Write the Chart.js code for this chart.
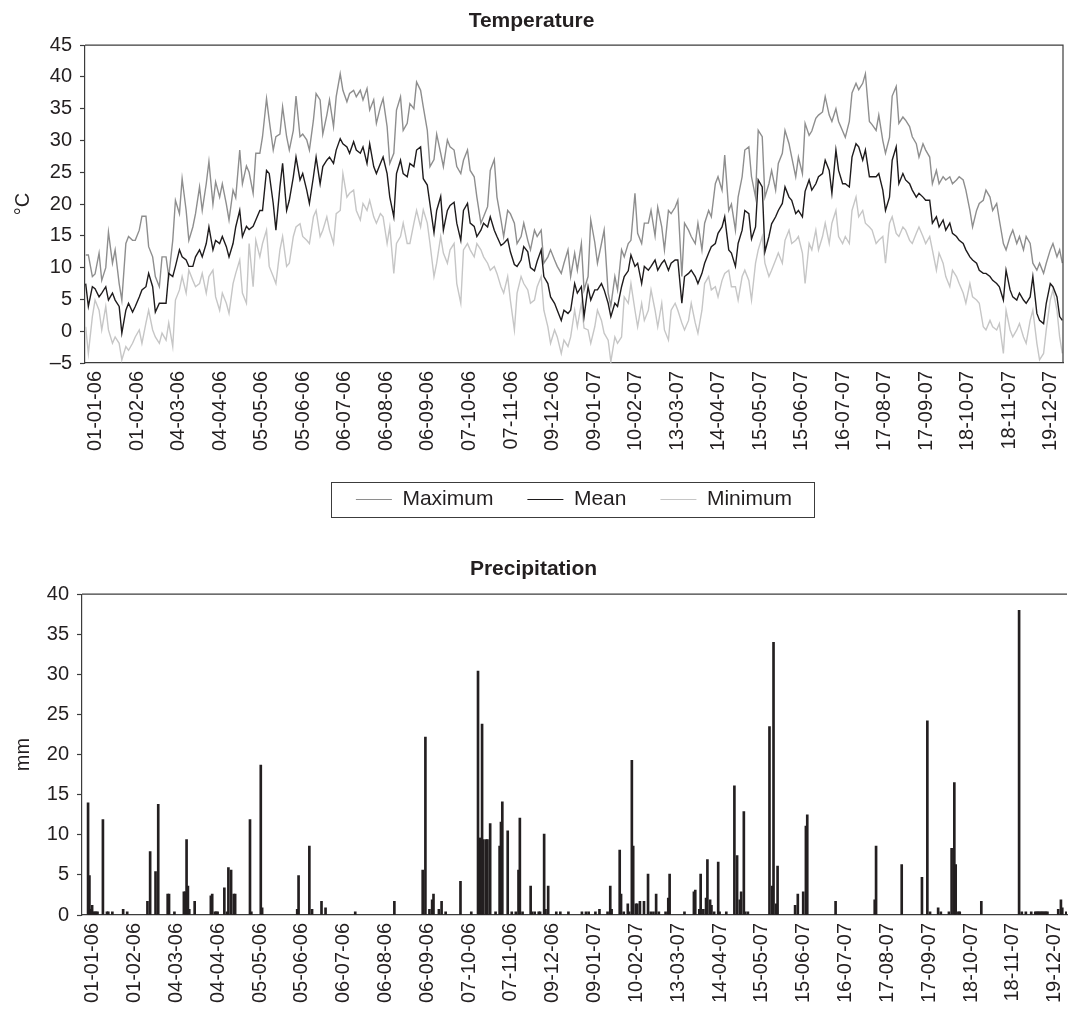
<!DOCTYPE html>
<html>
<head>
<meta charset="utf-8">
<title>Temperature and precipitation</title>
<script src="https://cdn.jsdelivr.net/npm/chart.js@4.4.0/dist/chart.umd.min.js"></script>
<style>
  html, body { margin: 0; padding: 0; background: #fff; }
  #page { position: relative; width: 1070px; height: 1018px; }
  .panel { position: absolute; left: 0; width: 1070px; }
  #tempPanel { top: 0; height: 520px; }
  #rainPanel { top: 520px; height: 498px; }
</style>
</head>
<body>
<div id="page">
  <div class="panel" id="tempPanel"><canvas id="tempChart"></canvas></div>
  <div class="panel" id="rainPanel"><canvas id="rainChart"></canvas></div>
</div>
<script>
// x axis: day number counted from 01-01-06, a label every 31 days
const tickDays = [0, 31, 62, 93, 124, 155, 186, 217, 248, 279, 310, 341,
  372, 403, 434, 465, 496, 527, 558, 589, 620, 651, 682, 713];
const tickLabels = ['01-01-06', '01-02-06', '04-03-06', '04-04-06', '05-05-06', '05-06-06',
  '06-07-06', '06-08-06', '06-09-06', '07-10-06', '07-11-06', '09-12-06',
  '09-01-07', '10-02-07', '13-03-07', '14-04-07', '15-05-07', '15-06-07',
  '16-07-07', '17-08-07', '17-09-07', '18-10-07', '18-11-07', '19-12-07'];

const sampleDays = [
  0, 2, 5, 7, 10, 12, 15, 17, 20, 22, 25, 27, 30, 32, 35, 37, 40, 42, 45, 47,
  50, 52, 55, 57, 60, 62, 65, 67, 70, 72, 75, 77, 80, 82, 85, 87, 90, 92, 95, 97,
  100, 102, 105, 107, 110, 112, 115, 117, 120, 122, 125, 127, 130, 132, 135, 137, 140, 142, 145, 147,
  150, 152, 155, 157, 160, 162, 165, 167, 170, 172, 175, 177, 180, 182, 185, 187, 190, 192, 195, 197,
  200, 202, 205, 207, 210, 212, 215, 217, 220, 222, 225, 227, 230, 232, 235, 237, 240, 242, 245, 247,
  250, 252, 255, 257, 260, 262, 265, 267, 270, 272, 275, 277, 280, 282, 285, 287, 290, 292, 295, 297,
  300, 302, 305, 307, 310, 312, 315, 317, 320, 322, 325, 327, 330, 332, 335, 337, 340, 342, 345, 347,
  350, 352, 355, 357, 360, 362, 365, 367, 370, 372, 375, 377, 380, 382, 385, 387, 390, 392, 395, 397,
  400, 402, 405, 407, 410, 412, 415, 417, 420, 422, 425, 427, 430, 432, 435, 437, 440, 442, 445, 447,
  450, 452, 455, 457, 460, 462, 465, 467, 470, 472, 475, 477, 480, 482, 485, 487, 490, 492, 495, 497,
  500, 502, 505, 507, 510, 512, 515, 517, 520, 522, 525, 527, 530, 532, 535, 537, 540, 542, 545, 547,
  550, 552, 555, 557, 560, 562, 565, 567, 570, 572, 575, 577, 580, 582, 585, 587, 590, 592, 595, 597,
  600, 602, 605, 607, 610, 612, 615, 617, 620, 622, 625, 627, 630, 632, 635, 637, 640, 642, 645, 647,
  650, 652, 655, 657, 660, 662, 665, 667, 670, 672, 675, 677, 680, 682, 685, 687, 690, 692, 695, 697,
  700, 702, 705, 707, 710, 712, 715, 717, 720, 722, 725, 727, 729];

const maxTemp = [
  12, 12, 8.6, 9, 12.3, 8, 10, 15.6, 10.7, 12.8, 7.5, 4.9, 13.8, 14.9, 14.3, 14.3, 15.9, 18.1, 18.1, 13.3,
  11.7, 8.6, 7, 11.7, 11.7, 8.6, 14.3, 20.6, 18.5, 24, 19, 14.3, 16.4, 18.5, 22.7, 19, 23.2, 26.7, 20, 23.5,
  21.1, 23.2, 20, 17.5, 22.2, 21, 28.5,
  23.2, 26, 25, 21.7, 28, 28, 30.6, 36.6, 33.2, 28.5, 30.6, 31, 35.3, 30.6, 28.5, 31.6, 37, 30.6, 31, 30.1,
  28.5, 33.2, 37.4, 36.4, 31, 34, 36.4, 32.2, 36.9, 40.5, 37.9, 36.1, 37.4, 37.9, 36.9, 37.9, 36.4, 38.2, 34.8, 36.4,
  32.7, 35.3, 36.6, 32.2, 26.4, 28, 34.8, 36.9, 31.6,
  32.7, 35.8, 35, 39.2, 37.9, 35.3, 31.6, 25.9, 27, 31, 28, 25.9, 30.1, 29, 28.5, 25.9, 24.8, 26.9, 28.5, 25.3,
  24.3, 21.1, 17, 18, 19.6, 25.3, 27, 21.1, 17.5, 14.9, 19, 18.5, 17, 13.8, 14.9, 17, 14.3, 12.8, 15.9, 14.9,
  15.9, 10.7, 11.7, 12.8, 11.2, 10.2, 9.1, 10.7, 12.8,
  8.6, 12.3, 9.6, 13.8, 6.5, 8.6, 17.5, 14, 10.7, 13.8, 15.9, 6, 4, 8.6, 6.5, 12.8, 11.7, 13.8, 14.3, 21.7,
  15.4, 13.8, 17, 17, 19, 15, 19.5, 16.4, 12.8, 19, 18.5, 19.5, 20.6, 8.6, 17, 15.9, 14.9, 13.8, 17, 12.8,
  17, 19, 18, 23.2, 24.3, 22.2, 27.7, 19, 20,
  15.9, 21.1, 24.3, 28.5, 29, 24.3, 21.1, 31.6, 30.6, 21.1, 23.2, 25.3, 22.2, 26.4, 28, 31.6, 29.5, 27.4, 24.3, 27.4,
  24.8, 32.7, 30.8, 31.5, 33.5, 34, 34.5, 36.9, 34, 33, 35, 33, 31.5, 30.5, 33, 37.5, 39, 38, 39, 40.5,
  33, 32.5, 31.6, 34, 30, 28, 30.5, 37, 38.5,
  32.7, 33.7, 33.2, 32.2, 30.6, 29.5, 27.4, 29.5, 28.5, 27.4, 23.2, 25.3, 23.2, 24.3, 23.8, 24.3, 23.2, 23.8, 24.3, 23.8,
  22.2, 19, 16.4, 19, 20.1, 20.6, 22.2, 21.1, 19, 20.1, 17.5, 13.8, 12.8, 14.9, 15.9, 13.8, 14.9, 12.8, 14.9, 13.8,
  10.7, 9.6, 10.7, 9.1, 10.7, 12.8, 13.8, 11.7, 12.8, 10.7];

const meanTemp = [
  7.5, 3.9, 7, 6.7, 5.4, 6, 7, 4.9, 6, 4.9, 3.9, -0.3, 3.3, 4.4, 3, 3.9, 5.4, 6.5, 7, 9.1,
  7, 3, 4.4, 4.4, 4.4, 9.1, 8.6, 10.2, 12.8, 11.7, 11.2, 10.2, 10.2, 11.7, 12.8, 11.7, 13.8, 16.4, 12.8, 14.3,
  13.8, 14.9, 13.3, 11.7, 13.8, 16.4, 19,
  14.9, 16.5, 16, 16.5, 17.5, 19, 19, 25.3, 24.8, 20.1, 15.9, 22.7, 26.4, 19, 20.6, 24.3, 27.4, 23.8, 24.8, 22.2,
  20.1, 24.3, 27.4, 23.2, 25.9, 26.9, 27.4, 26.4, 28.5, 30.3, 29.5, 29, 28, 29.8, 28.5, 28, 29, 26.4, 29.5, 25.9,
  24.8, 26.4, 27.4, 24.8, 21.1, 18, 24.8, 26.9, 24.8,
  24.3, 26.4, 25.9, 28.5, 29, 24, 23, 20, 15.5, 19, 21.2, 15.9, 19, 19.8, 20.3, 17, 14.3, 19, 20.1, 17,
  16.5, 14.9, 15.9, 17, 16.4, 18, 15.9, 14.9, 13.5, 13.8, 14.5, 12.5, 10.5, 10.2, 11.2, 13.3, 12.5, 10, 9.5, 11,
  12.8, 8.6, 7.5, 5.4, 4.4, 3.3, 1.7, 3.3, 2.8,
  3.3, 7.5, 6, 7, 2.3, 7, 4.9, 6.5, 6.5, 7.5, 6.5, 4.4, 2.3, 4.4, 3.9, 7, 8.6, 9.5, 12, 10.2,
  10.7, 7.5, 10.2, 9.6, 10.2, 11.2, 9.6, 10.7, 11.2, 9.6, 10.7, 11.2, 11.2, 4.4, 8.6, 9.1, 9.6, 8.6, 7.5, 9.1,
  10.7, 12.3, 13.3, 13.8, 15.4, 16.4, 18, 12.8, 12.3,
  10.2, 13.8, 15.9, 19, 18.5, 14.5, 16.4, 23.8, 22.7, 12.5, 14.9, 16.9, 18, 19, 20.1, 22.7, 21.1, 20.6, 18.5, 19,
  18, 22, 23.8, 22.2, 23.2, 24.3, 24.8, 26.9, 25.3, 21.7, 28.5, 25.3, 23.2, 23.2, 22.7, 27.4, 29.5, 29, 26.9, 28.5,
  24.3, 24.3, 24.3, 24.8, 22.2, 19, 21.1, 26.9, 29,
  23.2, 24.8, 23.8, 23.2, 22.2, 21.1, 21.7, 21.1, 20.6, 20.6, 17, 18, 16.4, 17.5, 15.9, 17, 15.4, 14.9, 14.3, 13.8,
  12.8, 11.7, 11.2, 10.7, 9.6, 9.1, 9.1, 8.6, 8, 7.5, 7, 4.9, 9.6, 6.5, 5.4, 4.9, 6, 4.9, 4.4, 5.4,
  8.6, 2.8, 1.7, 1.2, 4.4, 7.5, 7, 5.4, 2.3, 1.7];

const minTemp = [
  0.7, -3.5, 2.3, 4.9, 3.3, 0.2, 3.9, 0.2, -1.9, -0.9, -1.9, -4.5, -2.4, -3, -1.9, -0.9, 0.2, -1.9, 1.3, 3.3,
  0.2, -0.9, -1.9, -0.3, -1.4, 1.3, -2.4, 4.9, 6.5, 8.6, 6, 9.6, 8, 7, 7.5, 9.1, 6, 8.6, 9.6, 5.4,
  3.3, 6, 4.4, 2.8, 7.5, 9.1, 11.2,
  6, 4.4, 13.8, 7, 14.3, 11.7, 13.8, 15.9, 10.2, 8.6, 7.5, 12.8, 14.9, 10.2, 10.7, 14.9, 16.4, 16.9, 14.9, 14.3,
  13.8, 18, 19, 14.9, 15.9, 18, 15.9, 13.8, 18.5, 19, 24.8, 21.1, 21.7, 22.2, 19, 17.5, 20.1, 19, 20.6, 18,
  17, 18.5, 18, 13.8, 16.4, 9.1, 13.8, 14.9, 17,
  13.8, 13.8, 17, 19, 16.4, 19.1, 17, 13.8, 8.6, 10.7, 14.9, 12.3, 10.7, 12.8, 13.8, 7.5, 4.4, 12.8, 13.8, 12.8,
  11.7, 13.8, 12.8, 11.7, 10.7, 9.6, 10.2, 9.1, 7, 6, 8.6, 4.9, 0.2, 6, 8.6, 7.5, 6.5, 4.4, 4.9, 7,
  8.6, 3.3, 0.7, -1.9, 0.2, -0.9, -3.5, -1.4, -2.4,
  -0.9, 3.3, 0.7, 4.4, 0.5, 0.2, -1.9, 0.7, 3.3, 1.7, -0.3, -1.4, -4.8, -0.9, -1.9, -0.9, 5.4, 4.4, 7.5, 3.3,
  0.7, 4.4, 1.7, 3.3, 6.5, 3.3, 0.7, 4.4, 0.2, -1.4, 3.3, 4.4, 3.3, 1.3, 0.2, 1.7, 4.4, 1.3, -0.3, 3.3,
  7.5, 8.6, 6.5, 7, 5.4, 8, 9.1, 9.6, 7,
  7, 4.9, 8.6, 9.6, 8, 4.9, 10.7, 12.8, 14.9, 10.7, 8.6, 9.6, 11.2, 12.3, 10.7, 14.3, 15.9, 13.8, 14.3, 14.9,
  12.3, 7.5, 13.8, 12.8, 15.9, 12.8, 14.9, 17, 13.8, 17, 19, 14.9, 13.8, 14.9, 13.8, 19, 21.1, 18, 19, 17,
  16.4, 15.9, 13.8, 14.3, 14.9, 10.7, 17, 18, 15.4,
  14.9, 16.4, 15.9, 14.3, 13.8, 15.4, 16.4, 14.9, 13.8, 14.9, 12.8, 9.6, 12.3, 10.7, 8.6, 7, 9.6, 8.6, 7.5, 6,
  4.4, 7.5, 5.4, 4.9, 4.4, 0.7, 0.2, 1.7, 0.7, 0.2, 1.2, -3.5, 3.3, 0.2, -0.9, 0.2, 1.2, -0.9, -1.9, 1.7,
  3.3, -1.9, -4.5, -3.5, 0.2, 4.9, 6.5, 3.3, -0.9, -3.5];

// precipitation: only the days with a visible bar
const rainDays = [4, 5, 6, 7, 8, 9, 10, 11, 15, 18, 19, 22, 30, 33, 48, 50, 54, 56, 63, 64, 68,
  75, 76, 77, 78, 79, 83, 95, 96, 98, 99, 100, 105, 107, 108, 110, 112, 113, 124, 125, 132, 133,
  159, 160, 168, 170, 177, 180, 202, 231, 252, 254, 257, 259, 260, 264, 266, 269, 280, 288,
  293, 294, 295, 296, 297, 299, 300, 302, 306, 309, 310, 311, 315, 318, 321, 323, 324, 326,
  332, 333, 335, 338, 339, 342, 343, 345, 351, 354, 360,
  370, 373, 375, 380, 383, 389, 391, 392, 398, 399, 401, 404, 405, 407, 408, 410, 411, 413, 416, 419,
  421, 423, 425, 427, 432, 434, 435, 446, 453, 454, 457, 458, 460, 462, 463, 465, 466, 468, 471, 472,
  477, 483, 485, 487, 488, 490, 491, 493, 509, 511, 512, 514, 515, 528, 530, 534, 536, 537,
  558, 587, 588, 607, 622, 626, 628, 634, 636, 642, 644, 646, 647, 649, 650, 666,
  694, 696, 699, 703, 706, 707, 708, 709, 710, 711, 712, 713, 714, 715, 723, 725, 726, 729];
const rainMm = [14, 4.9, 0.7, 1.2, 0.4, 0.4, 0.4, 0.4, 11.9, 0.4, 0.4, 0.4, 0.7, 0.4, 1.7, 7.9, 5.4, 13.8, 2.6, 2.6, 0.4,
  2.9, 2.9, 9.4, 3.6, 0.7, 1.7, 2.4, 2.6, 0.4, 0.4, 0.4, 3.4, 0.4, 5.9, 5.6, 2.6, 2.6, 11.9, 0.4, 18.7, 0.9,
  0.7, 4.9, 8.6, 0.7, 1.7, 0.9, 0.4, 1.7, 5.6, 22.2, 0.7, 1.9, 2.6, 0.7, 1.7, 0.4, 4.2, 0.4,
  30.4, 9.6, 9.6, 23.8, 9.4, 9.4, 9.4, 11.4, 0.4, 8.6, 11.6, 14.1, 10.5, 0.4, 0.4, 5.6, 12.1, 0.4,
  3.6, 0.4, 0.4, 0.4, 0.4, 10.1, 0.7, 3.6, 0.4, 0.4, 0.4,
  0.4, 0.4, 0.4, 0.4, 0.7, 0.4, 3.6, 0.7, 8.1, 2.6, 0.4, 1.4, 0.4, 19.3, 8.6, 1.4, 1.4, 1.7, 1.7, 5.1,
  0.4, 0.4, 2.6, 0.4, 0.4, 2.1, 5.1, 0.4, 2.9, 3.1, 0.7, 5.1, 0.7, 2.1, 6.9, 1.9, 1.2, 0.4, 6.6, 0.4,
  0.4, 16.1, 7.4, 1.9, 2.9, 12.9, 0.4, 0.4, 23.5, 3.6, 34, 1.4, 6.1, 1.2, 2.6, 2.9, 11.1, 12.5,
  1.7, 1.9, 8.6, 6.3, 4.7, 24.2, 0.4, 0.9, 0.4, 0.4, 8.3, 16.5, 6.3, 0.4, 0.4, 1.7,
  38, 0.4, 0.4, 0.4, 0.4, 0.4, 0.4, 0.4, 0.4, 0.4, 0.4, 0.4, 0.4, 0.4, 0.7, 1.9, 0.9, 0.4];

const ink = '#231f20';
const axisColor = '#3c3c3c';
Chart.defaults.font.family = "'Liberation Sans', Arial, Helvetica, sans-serif";
Chart.defaults.color = ink;

// top/right edge of the plot and the box round the legend
const framePlugin = {
  id: 'frame',
  afterDraw(chart, args, opts) {
    const {ctx, chartArea: a} = chart;
    ctx.save();
    ctx.strokeStyle = axisColor;
    ctx.lineWidth = 1.2;
    ctx.beginPath();
    ctx.moveTo(a.left, a.top);
    ctx.lineTo(a.right, a.top);
    if (opts.right) ctx.lineTo(a.right, a.bottom);
    ctx.stroke();
    if (opts.legendBox && chart.legend && chart.legend.legendHitBoxes.length) {
      const hb = chart.legend.legendHitBoxes;
      const left = Math.min(...hb.map(h => h.left)) - 25;
      const right = Math.max(...hb.map(h => h.left + h.width)) + 22;
      const top = hb[0].top - 7;
      const bottom = hb[0].top + hb[0].height + 7;
      ctx.lineWidth = 1;
      ctx.strokeRect(Math.round(left) + 0.5, Math.round(top) + 0.5, Math.round(right - left), Math.round(bottom - top));
    }
    ctx.restore();
  }
};

function dayAxis(height) {
  return {
    type: 'linear',
    min: -0.5,
    max: 729.5,
    offset: false,
    afterBuildTicks: (axis) => { axis.ticks = tickDays.map(v => ({value: v})); },
    afterFit: (axis) => { axis.height = height; },
    grid: {display: false},
    border: {display: true, color: axisColor, width: 1.2},
    ticks: {
      autoSkip: false,
      minRotation: 90,
      maxRotation: 90,
      padding: 0,
      labelOffset: 10,
      font: {size: 20},
      callback: (v) => tickLabels[tickDays.indexOf(v)]
    }
  };
}

function valueAxis(min, max, title, width) {
  return {
    min: min,
    max: max,
    afterFit: (axis) => { axis.width = width; },
    grid: {drawOnChartArea: false, drawTicks: true, tickLength: 5, tickColor: axisColor, tickWidth: 1.2},
    border: {display: true, color: axisColor, width: 1.2},
    ticks: {
      stepSize: 5,
      padding: 8,
      font: {size: 20},
      callback: (v) => v < 0 ? '\u2013' + Math.abs(v) : String(v)
    },
    title: {display: true, text: title, font: {size: 20}, padding: {top: 11, bottom: 0}}
  };
}

const toPoints = (vals) => sampleDays.map((d, i) => ({x: d, y: vals[i]}));

new Chart(document.getElementById('tempChart'), {
  type: 'line',
  data: {
    datasets: [
      {label: 'Maximum', data: toPoints(maxTemp), borderColor: '#8e8e8e', backgroundColor: '#8e8e8e', order: 2},
      {label: 'Mean', data: toPoints(meanTemp), borderColor: '#1e1b1c', backgroundColor: '#1e1b1c', order: 0},
      {label: 'Minimum', data: toPoints(minTemp), borderColor: '#c6c6c6', backgroundColor: '#c6c6c6', order: 1}
    ]
  },
  options: {
    responsive: true,
    maintainAspectRatio: false,
    animation: false,
    events: [],
    layout: {padding: {left: 0, right: 7, top: 0, bottom: 0}},
    elements: {
      line: {borderWidth: 1.4, tension: 0},
      point: {radius: 0}
    },
    scales: {
      x: dayAxis(92),
      y: valueAxis(-5, 45, '°C', 85)
    },
    plugins: {
      title: {display: true, text: 'Temperature', color: ink, font: {size: 21, weight: 'bold'}, padding: {top: 9, bottom: 11}},
      legend: {
        position: 'bottom',
        fullSize: false,
        labels: {
          usePointStyle: true, pointStyle: 'line', pointStyleWidth: 36, padding: 34,
          font: {size: 21}, color: ink,
          sort: (a, b) => a.datasetIndex - b.datasetIndex
        }
      },
      tooltip: {enabled: false},
      frame: {right: true, legendBox: true}
    }
  },
  plugins: [framePlugin]
});

new Chart(document.getElementById('rainChart'), {
  type: 'bar',
  data: {
    datasets: [{
      label: 'Precipitation',
      data: rainDays.map((d, i) => ({x: d, y: rainMm[i]})),
      backgroundColor: ink,
      borderWidth: 0,
      barThickness: 2
    }]
  },
  options: {
    responsive: true,
    maintainAspectRatio: false,
    animation: false,
    events: [],
    layout: {padding: {left: 0, right: 3, top: 0, bottom: 0}},
    scales: {
      x: dayAxis(103),
      y: valueAxis(0, 40, 'mm', 82)
    },
    plugins: {
      title: {display: true, text: 'Precipitation', color: ink, font: {size: 21, weight: 'bold'}, padding: {top: 37, bottom: 12}},
      legend: {display: false},
      tooltip: {enabled: false},
      frame: {right: false, legendBox: false}
    }
  },
  plugins: [framePlugin]
});
</script>
</body>
</html>
